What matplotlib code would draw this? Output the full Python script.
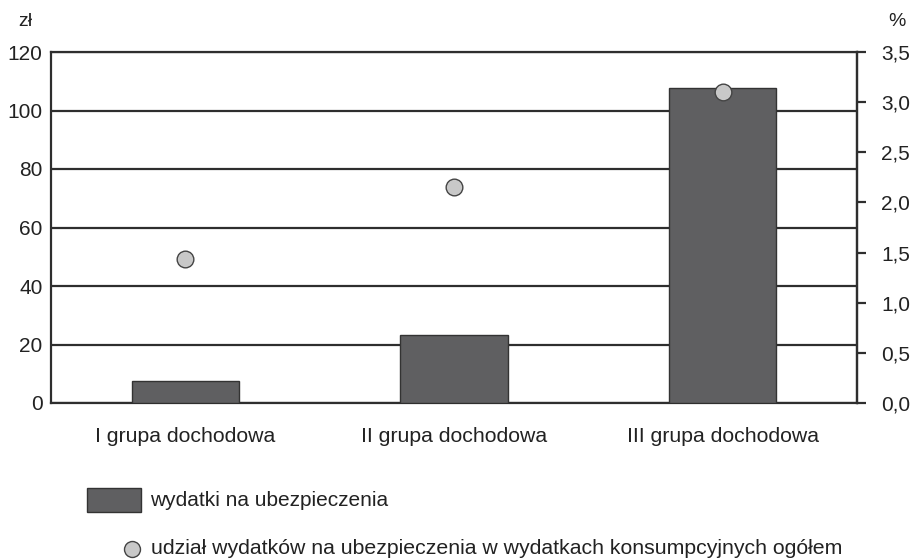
import numpy as np
import matplotlib.pyplot as plt
from matplotlib.patches import Rectangle
from matplotlib.lines import Line2D
from matplotlib.ticker import FuncFormatter

plt.rcParams['font.family'] = ['Liberation Sans', 'DejaVu Sans']

# data
groups = ['I grupa dochodowa', 'II grupa dochodowa', 'III grupa dochodowa']
wydatki = [7.5, 23.2, 107.7]          # zł
udzial = [1.44, 2.15, 3.10]           # %

line_col = '#2e2e2e'
bar_col = '#5f5f61'
dot_col = '#c8c8c8'
txt_col = '#222222'

fig = plt.figure(figsize=(9.14, 5.59), dpi=100)
ax = fig.add_axes([51 / 914, 1 - 403 / 559, 806 / 914, 351 / 559])

x = np.arange(len(groups))
ax.bar(x, wydatki, width=0.4, color=bar_col, edgecolor='#333333', linewidth=1.0, zorder=3)
ax.set_xlim(-0.5, 2.5)
ax.set_ylim(0, 120)
ax.set_yticks(np.arange(0, 121, 20))
ax.yaxis.grid(True, color=line_col, linewidth=1.6, zorder=0)
ax.set_axisbelow(True)
ax.set_xticks(x)
ax.set_xticklabels(groups)
ax.tick_params(axis='x', length=0, pad=17, labelsize=15.3, labelcolor=txt_col)
ax.tick_params(axis='y', length=0, pad=6, labelsize=15, labelcolor=txt_col)
for s in ax.spines.values():
    s.set_color(line_col)
    s.set_linewidth(1.6)

ax2 = ax.twinx()
ax2.set_ylim(0, 3.5)
ax2.set_yticks(np.arange(0, 3.51, 0.5))
ax2.yaxis.set_major_formatter(FuncFormatter(lambda v, p: f'{v:.1f}'.replace('.', ',')))
ax2.tick_params(axis='y', length=6.5, width=1.6, color=line_col, pad=11,
                labelsize=15, labelcolor=txt_col)
for s in ax2.spines.values():
    s.set_visible(False)
ax2.spines['right'].set_visible(True)
ax2.spines['right'].set_color(line_col)
ax2.spines['right'].set_linewidth(1.6)
ax2.plot(x, udzial, linestyle='none', marker='o', markersize=12,
         markerfacecolor=dot_col, markeredgecolor='#444444', markeredgewidth=1.0, zorder=5)

# unit labels
fig.text(18 / 914, 1 - 22 / 559, 'zł', fontsize=14, color=txt_col, va='center')
fig.text(888 / 914, 1 - 22 / 559, '%', fontsize=14, color=txt_col, va='center')

# legend drawn by hand
fig.add_artist(Rectangle((87 / 914, 1 - 512 / 559), 54 / 914, 24 / 559,
                         transform=fig.transFigure, facecolor=bar_col,
                         edgecolor='#333333', linewidth=1.0))
fig.text(150 / 914, 1 - 500 / 559, 'wydatki na ubezpieczenia',
         fontsize=15, color=txt_col, va='center')
fig.add_artist(Line2D([132 / 914], [1 - 549 / 559], transform=fig.transFigure,
                      marker='o', markersize=11.5, markerfacecolor=dot_col,
                      markeredgecolor='#444444', markeredgewidth=1.0, linestyle='none'))
fig.text(151 / 914, 1 - 549 / 559,
         'udział wydatków na ubezpieczenia w wydatkach konsumpcyjnych ogółem',
         fontsize=15.3, color=txt_col, va='center')

fig.savefig('out.png', dpi=100)
